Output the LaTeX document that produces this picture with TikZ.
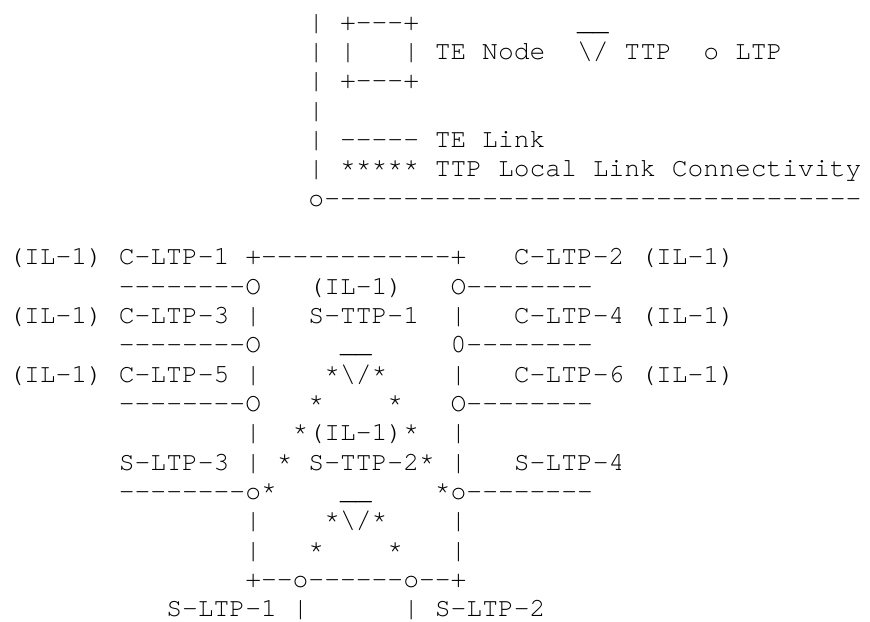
\documentclass[tikz,border=0pt]{standalone}
\usepackage{fontspec}
\setmonofont{texgyrecursor-regular.otf}
\usepackage{tikz}

\begin{document}
\begin{tikzpicture}[x=11.85pt, y=-22pt,
    ascii/.style={font={\ttfamily\fontsize{19.75}{22}\selectfont}, inner sep=0pt, anchor=base west}]
    \useasboundingbox (-6pt, 22.5pt) rectangle (646.5pt, -443.25pt);

    % legend, TE node
    \node[ascii](lbar0) at (19, 0){|};
    \node[ascii](lboxtop) at (21, 0){+---+};
    \node[ascii](lbar1) at (19, 1){|};
    \node[ascii](lboxl) at (21, 1){|};
    \node[ascii](lboxr) at (25, 1){|};
    \node[ascii](lnode) at (27, 1){TE Node};
    \node[ascii](lbar2) at (19, 2){|};
    \node[ascii](lboxbot) at (21, 2){+---+};
    % legend, TTP and LTP
    \node[ascii](lttpbar) at (36, 0){\_\_};
    \node[ascii](lttp) at (36, 1){\textbackslash/};
    \node[ascii](lttptxt) at (39, 1){TTP};
    \node[ascii](lltp) at (44, 1){o};
    \node[ascii](lltptxt) at (46, 1){LTP};
    % legend, TE link
    \node[ascii](lbar3) at (19, 3){|};
    \node[ascii](lbar4) at (19, 4){|};
    \node[ascii](llink) at (21, 4){-----};
    \node[ascii](llinktxt) at (27, 4){TE Link};
    % legend, local link connectivity
    \node[ascii](lbar5) at (19, 5){|};
    \node[ascii](lstar) at (21, 5){*****};
    \node[ascii](lstartxt) at (27, 5){TTP Local Link Connectivity};
    \node[ascii](lbase) at (19, 6){o----------------------------------};

    % TE node, top edge and C-LTPs
    \node[ascii](cltp1) at (0, 8){(IL-1) C-LTP-1};
    \node[ascii](ntop) at (15, 8){+------------+};
    \node[ascii](cltp2) at (32, 8){C-LTP-2 (IL-1)};
    \node[ascii](cl1) at (7, 9){--------O};
    \node[ascii](cl2) at (28, 9){O--------};
    \node[ascii](cltp3) at (0, 10){(IL-1) C-LTP-3};
    \node[ascii](nl10) at (15, 10){|};
    \node[ascii](nr10) at (28, 10){|};
    \node[ascii](cltp4) at (32, 10){C-LTP-4 (IL-1)};
    \node[ascii](cl3) at (7, 11){--------O};
    \node[ascii](cl4) at (28, 11){0--------};
    \node[ascii](cltp5) at (0, 12){(IL-1) C-LTP-5};
    \node[ascii](nl12) at (15, 12){|};
    \node[ascii](nr12) at (28, 12){|};
    \node[ascii](cltp6) at (32, 12){C-LTP-6 (IL-1)};
    \node[ascii](cl5) at (7, 13){--------O};
    \node[ascii](cl6) at (28, 13){O--------};

    % S-TTP-1
    \node[ascii](sttp1il) at (19, 9){(IL-1)};
    \node[ascii](sttp1) at (19, 10){S-TTP-1};
    \node[ascii](sttp1bar) at (21, 11){\_\_};
    \node[ascii](sttp1v) at (20, 12){*\textbackslash/*};
    \node[ascii](st13a) at (19, 13){*};
    \node[ascii](st13b) at (24, 13){*};

    % S-TTP-2 and S-LTPs
    \node[ascii](nl14) at (15, 14){|};
    \node[ascii](sttp2il) at (18, 14){*(IL-1)*};
    \node[ascii](nr14) at (28, 14){|};
    \node[ascii](sltp3) at (7, 15){S-LTP-3};
    \node[ascii](nl15) at (15, 15){|};
    \node[ascii](st15) at (17, 15){*};
    \node[ascii](sttp2) at (19, 15){S-TTP-2*};
    \node[ascii](nr15) at (28, 15){|};
    \node[ascii](sltp4) at (32, 15){S-LTP-4};
    \node[ascii](sl3) at (7, 16){--------o*};
    \node[ascii](sttp2bar) at (21, 16){\_\_};
    \node[ascii](sl4) at (27, 16){*o--------};
    \node[ascii](nl17) at (15, 17){|};
    \node[ascii](sttp2v) at (20, 17){*\textbackslash/*};
    \node[ascii](nr17) at (28, 17){|};
    \node[ascii](nl18) at (15, 18){|};
    \node[ascii](st18a) at (19, 18){*};
    \node[ascii](st18b) at (24, 18){*};
    \node[ascii](nr18) at (28, 18){|};

    % TE node, bottom edge
    \node[ascii](nbot) at (15, 19){+--o------o--+};
    \node[ascii](sltp1) at (10, 20){S-LTP-1};
    \node[ascii](sl1) at (18, 20){|};
    \node[ascii](sl2) at (25, 20){|};
    \node[ascii](sltp2) at (27, 20){S-LTP-2};
\end{tikzpicture}
\end{document}
